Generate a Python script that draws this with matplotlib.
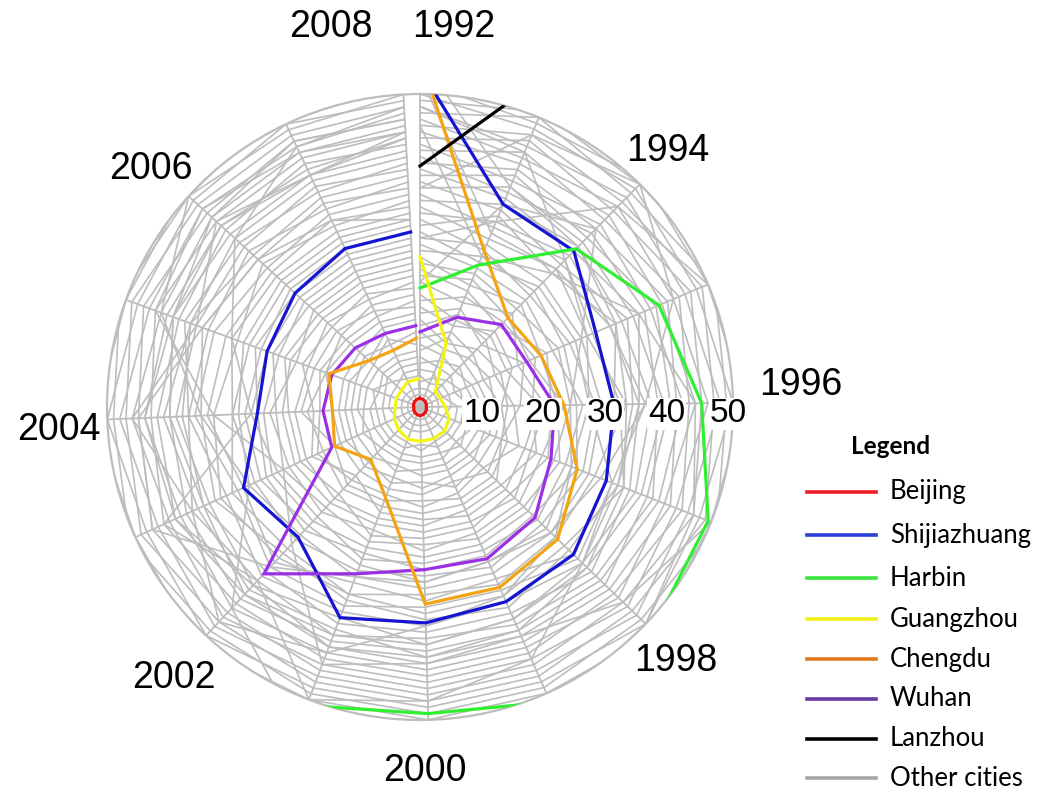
import numpy as np
import matplotlib
matplotlib.use("Agg")
import matplotlib.pyplot as plt
from matplotlib.transforms import offset_copy
from matplotlib.lines import Line2D

nan = np.nan

# ---------------- data ----------------
years = list(range(1992, 2009))
label_years = [1992, 1994, 1996, 1998, 2000, 2002, 2004, 2006, 2008]
radial_ticks = [10, 20, 30, 40, 50]

beijing      = [1.4, 1.3, 1.2, 1.1, 1.0, 1.1, 1.2, 1.3, 1.4, 1.3, 1.2, 1.1, 1.0, 1.1, 1.2, 1.3, 1.4]
shijiazhuang = [54, 35, 35, 30.5, 31, 32, 34, 34, 34.5, 36, 28.5, 31, 26, 26, 27, 28, 28]
harbin       = [19, 24.5, 35.5, 41.5, 45, 49.5, 51.5, 51.5, 49, 51, nan, nan, nan, nan, nan, nan, nan]
guangzhou    = [24, 11, 3.5, 3.5, 4, 5, 5.5, 5.5, 5.5, 5.5, 5, 4.5, 4, 4, 4, 4.5, 4.5]
chengdu      = [56, 27, 20, 21, 23, 27, 30.5, 31.5, 31.5, 15.5, 11.5, 15, 14, 15.5, 11, 10, 11]
wuhan        = [12, 15.5, 18.5, 18.5, 21.5, 22.5, 25.5, 26.5, 26, 28.5, 36.5, 15.5, 15.5, 15, 14, 13, 13]
lanzhou      = [38.5, 59, nan, nan, nan, nan, nan, nan, nan, nan, nan, nan, nan, nan, nan, nan, nan]

other_cities = [
    [2, 2, 2, 2, 2, 2, 2, 2, 2, 2, 2, 2, 2, 2, 2, 2, 2],
    [3, 3, 3, 3, 3, 3, 3, 3, 3, 3, 3, 3, 3, 3, 3, 3, 3],
    [5, 4, 5, 5, 5, 4, 4, 4, 4, 4, 4, 4, 5, 5, 5, 6, 6],
    [6, 6, 4, 4, 6, 6, 6, 6, 7, 6, 6, 6, 6, 6, 7, 7, 7],
    [4, 5, 6, 7, 7, 7, 7, 7, 6, 7, 7, 7, 7, 8, 6, 5, 5],
    [8, 7, 7, 6, 8, 8, 9, 8, 8, 8, 8, 8, 8, 7, 8, 8, 8],
    [7, 8, 9, 8, 9, 9, 8, 9, 9, 9, 9, 10, 9, 9, 9, 9, 9],
    [10, 9, 8, 9, 10, 10, 10, 10, 10, 11, 10, 9, 10, 10, 10, 12, 10],
    [9, 12, 10, 10, 11, 12, 11, 11, 11, 10, 11, 11, 11, 11, 12, 11, 12],
    [12, 10, 11, 12, 12, 11, 12, 12, 13, 12, 13, 12, 12, 12, 11, 13, 13],
    [11, 13, 12, 11, 13, 13, 13, 14, 12, 13, 12, 13, 13, 13, 13, 14, 14],
    [14, 11, 13, 14, 14, 14, 15, 13, 14, 14, 14, 14, 14, 16, 15, 15, 15],
    [13, 16, 15, 13, 15, 17, 14, 15, 16, 15, 16, 18, 16, 17, 16, 16, 17],
    [16, 14, 17, 16, 13, 15, 16, 16, 15, 16, 17, 15, 19, 18, 18, 17, 16],
    [15, 17, 14, 18, 16, 14, 17, 17, 17, 17, 18, 17, 18, 16, 17, 18, 18],
    [18, 15, 16, 15, 19, 18, 19, 19, 18, 18, 15, 19, 17, 20, 19, 20, 19],
    [17, 19, 19, 20, 18, 20, 18, 18, 19, 19, 20, 20, 20, 19, 20, 19, 20],
    [20, 18, 21, 17, 20, 19, 21, 20, 20, 20, 21, 22, 22, 22, 21, 21, 21],
    [22, 20, 18, 22, 21, 22, 20, 21, 21, 22, 19, 21, 21, 23, 22, 22, 22],
    [21, 22, 20, 19, 23, 21, 22, 22, 23, 21, 23, 23, 24, 21, 23, 23, 23],
    [24, 21, 23, 21, 22, 24, 23, 23, 22, 23, 22, 24, 23, 25, 24, 24, 24],
    [23, 23, 22, 24, 24, 23, 24, 24, 24, 24, 25, 26, 25, 24, 25, 25, 25],
    [26, 24, 24, 23, 26, 25, 26, 25, 25, 26, 24, 25, 27, 26, 26, 26, 26],
    [25, 26, 26, 25, 25, 27, 25, 26, 26, 25, 27, 27, 26, 28, 27, 27, 27],
    [28, 25, 27, 27, 27, 26, 28, 27, 28, 27, 26, 28, 28, 27, 28, 28, 28],
    [30, 27, 25, 26, 28, 28, 27, 28, 27, 28, 29, 29, 30, 29, 29, 29, 29],
    [27, 28, 28, 28, 29, 29, 29, 29, 29, 29, 28, 30, 29, 30, 30, 30, 30],
    [32, 29, 31, 29, 33, 30, 30, 31, 30, 32, 31, 33, 30, 32, 31, 31, 31],
    [29, 33, 30, 34, 31, 32, 34, 30, 31, 30, 34, 31, 34, 33, 32, 33, 32],
    [34, 31, 33, 30, 32, 35, 32, 33, 33, 32, 33, 35, 33, 31, 34, 32, 33],
    [31, 32, 34, 33, 36, 33, 35, 32, 32, 34, 35, 32, 36, 35, 33, 34, 34],
    [36, 34, 32, 36, 34, 34, 33, 35, 34, 33, 32, 36, 35, 37, 35, 36, 35],
    [33, 35, 36, 35, 37, 37, 36, 34, 35, 35, 37, 34, 37, 36, 37, 35, 36],
    [38, 36, 35, 38, 35, 36, 38, 36, 36, 37, 36, 38, 38, 39, 36, 37, 37],
    [35, 38, 37, 37, 39, 38, 37, 37, 38, 36, 39, 37, 39, 38, 38, 39, 38],
    [40, 37, 39, 39, 38, 40, 39, 38, 37, 39, 38, 40, 37, 40, 39, 38, 39],
    [37, 40, 38, 41, 40, 39, 41, 40, 40, 38, 40, 39, 41, 39, 40, 40, 40],
    [42, 39, 41, 40, 42, 41, 40, 39, 39, 40, 42, 41, 40, 42, 41, 41, 41],
    [39, 41, 40, 43, 41, 43, 42, 41, 41, 41, 41, 43, 42, 41, 42, 43, 42],
    [44, 42, 43, 42, 44, 42, 44, 42, 42, 42, 44, 42, 44, 43, 43, 42, 43],
    [41, 44, 42, 45, 43, 45, 43, 43, 43, 43, 43, 45, 43, 45, 44, 44, 44],
    [46, 43, 45, 44, 46, 44, 46, 44, 44, 44, 46, 44, 46, 44, 45, 45, 45],
    [43, 46, 44, 47, 45, 47, 45, 45, 45, 45, 45, 47, 45, 47, 46, 47, 46],
    [48, 45, 47, 46, 48, 46, 48, 46, 46, 46, 48, 46, 48, 46, 47, 46, 47],
    [45, 47, 46, 49, 47, 49, 47, 47, 47, 47, 47, 49, 47, 49, 48, 48, 48],
    [50, 48, 49, 48, 50, 48, 50, 48, 48, 48, 50, 48, 50, 48, 49, 50, 49],
    [47, 50, 48, 51, 49, 51, 49, 49, 49, 49, 49, 51, 49, 51, 50, 49, 50],
    [52, 49, 51, 50, 52, 50, 52, 50, 50, 50, 52, 50, 52, 50, 51, 51, 51],
    [49, 51, 50, 53, 51, 53, 51, 51, 51, 51, 51, 53, 51, 53, 52, 52, 52],
    [55, 52, 53, 52, 54, 52, 54, 52, 52, 52, 54, 52, 54, 52, 53, 53, 53],
    [45, 26, 30, 38, 44, 47, 50, 53, 55, 55, 44, 30, 35, 44, 50, 53, 54],
    [20, 35, 40, 28, 24, 26, 30, 33, 35, 42, 47, 40, 46, 38, 44, 41, 43],
    [48, 44, 33, 29, 27, 33, 36, 44, 47, 50, 38, 45, 27, 32, 40, 46, 48],
    [35, 47, 50, 44, 36, 31, 29, 27, 28, 29, 35, 47, 45, 37, 35, 33, 30],
    [27, 32, 45, 50, 53, 50, 45, 40, 41, 44, 30, 24, 33, 45, 47, 45, 44],
    [56, 38, 36, 34, 33, 35, 37, 39, 40, 41, 39, 43, 44, 42, 45, 47, 46],
    [53, 30, 31, 33, 35, 34, 36, 37, 38, 39, 41, 38, 40, 42, 43, 41, 44],
]

legend_names = ["Beijing", "Shijiazhuang", "Harbin", "Guangzhou",
                "Chengdu", "Wuhan", "Lanzhou", "Other cities"]

# ---------------- styling ----------------
W, H = 1054, 795
GRAY = "#bdbdbd"
ANGLE_STEP = 22.31

series = [
    (shijiazhuang, "#1414d2"),
    (wuhan, "#9a2fe6"),
    (chengdu, "#f5a312"),
    (harbin, "#2ef02e"),
    (guangzhou, "#f4f414"),
    (lanzhou, "#000000"),
    (beijing, "#ee1111"),
]
legend_colors = ["#ee1c24", "#2a3ed8", "#3de63d", "#f2f218",
                 "#e07a1f", "#6a3aa8", "#000000", "#a6a6a6"]

theta = np.deg2rad(np.arange(len(years)) * ANGLE_STEP)

fig = plt.figure(figsize=(W / 100, H / 100), dpi=100)
cx, cy, R = 420, 407, 313
ax = fig.add_axes([(cx - R) / W, (H - cy - R) / H, 2 * R / W, 2 * R / H],
                  projection="polar")
ax.set_theta_zero_location("N")
ax.set_theta_direction(-1)
ax.set_ylim(0, 50)
ax.set_xticks(theta)
ax.set_xticklabels([])
ax.set_yticks([])
ax.xaxis.grid(True, color=GRAY, lw=1.3)
ax.yaxis.grid(False)
ax.spines["polar"].set_color(GRAY)
ax.spines["polar"].set_linewidth(1.6)

for row in other_cities:
    ax.plot(theta, row, color=GRAY, lw=1.2, zorder=2)

for vals, col in series:
    ax.plot(theta, vals, color=col, lw=2.3, zorder=4, solid_joinstyle="miter")

# radial tick labels
trans = offset_copy(ax.transData, fig=fig, x=0, y=-7, units="dots")
for v in radial_ticks:
    ax.text(np.pi / 2, v * 0.985, str(v), transform=trans, ha="center", va="center",
            fontsize=24, family="Liberation Sans", zorder=6,
            bbox=dict(facecolor="white", edgecolor="none", pad=0.5))

# year labels
year_pos = {1992: (454, 27), 1994: (668, 151), 1996: (801, 385), 1998: (676, 661),
            2000: (425, 771), 2002: (174, 678), 2004: (59, 430), 2006: (151, 169),
            2008: (331, 27)}
for yr in label_years:
    x, y = year_pos[yr]
    fig.text(x / W, 1 - y / H, str(yr), ha="center", va="center",
             fontsize=27, family="Liberation Sans")

# legend
fig.text(851 / W, 1 - 447 / H, "Legend", ha="left", va="center",
         fontsize=17.5, family="Lato", fontweight="bold")
ys = [492, 535, 578, 619, 659, 699, 739, 778]
for name, col, y in zip(legend_names, legend_colors, ys):
    fig.add_artist(Line2D([807 / W, 876 / W], [1 - y / H, 1 - y / H],
                          color=col, lw=2.6))
    fig.text(890 / W, 1 - y / H, name, ha="left", va="center",
             fontsize=18.5, family="Lato")

fig.savefig("out.png", dpi=100)
